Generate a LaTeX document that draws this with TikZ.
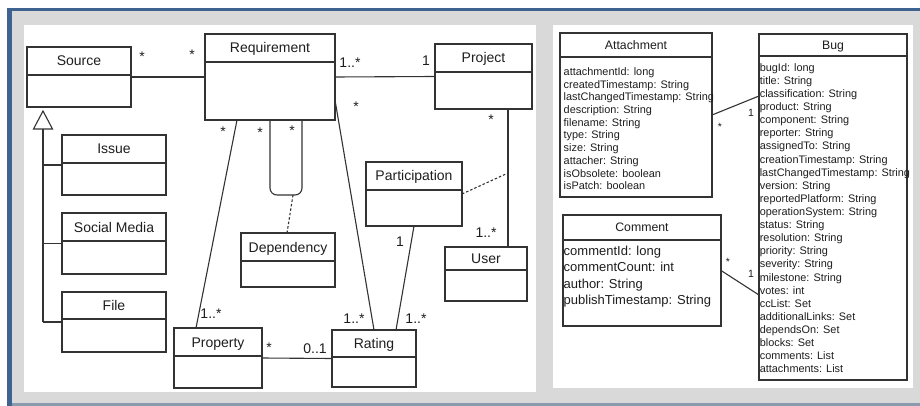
\documentclass[tikz,border=0pt]{standalone}
\usepackage{fontspec}
\setmainfont{Liberation Sans}
\usetikzlibrary{calc}
\definecolor{frameblue}{HTML}{3F6391}
\definecolor{bggray}{HTML}{D9D9D9}
\definecolor{ink}{HTML}{333333}
\definecolor{txt}{HTML}{1E1E1E}
\definecolor{botline}{HTML}{8C9AAE}
\tikzset{
  classbox/.style={draw=ink, line width=1.2pt, fill=white, rectangle, inner sep=0pt, outer sep=0pt},
  divider/.style={draw=ink, line width=1.2pt},
  conn/.style={draw=ink, line width=1.1pt},
  assoc/.style={draw=ink, line width=1.1pt, dash pattern=on 2.5pt off 2pt},
  ltitle/.style={font=\fontsize{14}{16}\selectfont, text height=10pt, text depth=0pt, inner sep=0pt, text=txt},
  rtitle/.style={font=\fontsize{12.3}{14}\selectfont, text height=8.8pt, text depth=0pt, inner sep=0pt, text=txt},
  mult/.style={font=\fontsize{14}{16}\selectfont, inner sep=0pt, anchor=base, text=txt},
  smult/.style={font=\fontsize{10.5}{12}\selectfont, inner sep=0pt, anchor=base, text=txt},
  attr/.style={font=\fontsize{10.9}{13}\selectfont, inner sep=0pt, anchor=base west, text=txt},
  cattr/.style={font=\fontsize{13}{15}\selectfont, inner sep=0pt, anchor=base west, text=txt},
}
\newcommand\umlbox[8]{%
  \node[classbox, minimum width={(#4-#2)*1pt}, minimum height={(#5-#3)*1pt}] (#1) at ({(#2+#4)/2},{(#3+#5)/2}) {};
  \draw[divider] (#2,#6) -- (#4,#6);
  \node[#8] (#1-t) at ({(#2+#4)/2},{(#3+#6)/2}) {#7};
}
\begin{document}
\begin{tikzpicture}[x=1pt,y=-1pt]
\useasboundingbox (0,0) rectangle (920,406);
% frame
\fill[white] (0,0) rectangle (920,406);
\fill[bggray] (12,11) rectangle (920,403);
\fill[frameblue] (7,8) rectangle (920,11);
\fill[frameblue] (7,8) rectangle (12,406);
\fill[botline] (12,403) rectangle (920,406);
\fill[white] (24,25) rectangle (536,392);
\fill[white] (553,25) rectangle (913,388);

% left diagram boxes
\umlbox{Source}{27}{47}{131}{107}{75}{Source}{ltitle}
\umlbox{Requirement}{205}{34}{335}{120}{62}{Requirement}{ltitle}
\umlbox{Project}{435}{44}{532}{109}{72}{Project}{ltitle}
\umlbox{Issue}{62}{135}{166}{195}{163}{Issue}{ltitle}
\umlbox{Social}{62}{213}{166}{274}{241}{Social Media}{ltitle}
\umlbox{File}{62}{292}{166}{352}{319}{File}{ltitle}
\umlbox{Property}{174}{328}{262}{388}{356}{Property}{ltitle}
\umlbox{Rating}{332}{330}{416}{387}{357}{Rating}{ltitle}
\umlbox{User}{445}{247}{527}{301}{270}{User}{ltitle}
\umlbox{Participation}{366}{162}{462}{226}{190}{Participation}{ltitle}
\umlbox{Dependency}{241}{233}{335}{287}{261}{Dependency}{ltitle}

% generalisation
\coordinate (gtip) at (43,111);
\coordinate (gbase) at (43,129);
\coordinate (gend) at (43,322);
\draw[conn] (gbase) -- (gend);
\draw[conn] (Issue.west) -- (Issue.west -| gend);
\draw[conn] (Social.west) -- (Social.west -| gend);
\draw[conn] (File.west) -- (gend);
\draw[conn, fill=white, line join=miter] (gtip) -- ++(-9.5,18) -- ++(19,0) -- cycle;

% associations
\draw[conn] (Source.east) -- (Requirement.west);
\draw[conn] (Requirement.east) -- (Project.west);
\draw[conn] ([yshift=-23pt]Requirement.east) -- (Rating.north);
\draw[conn] ([xshift=-33pt]Requirement.south) -- ([xshift=-22pt]Property.north);
\draw[conn, rounded corners=7pt] (Requirement.south) -- ++(0,75) -- ++(32,0) -- ([xshift=32pt]Requirement.south);
\coordinate (loopmid) at (293,195);
\draw[assoc] (loopmid) -- ([xshift=-1pt]Dependency.north);
\draw[conn] (Participation.south) -- ([xshift=22pt]Rating.north);
\draw[conn] ([xshift=24.5pt]Project.south) -- coordinate[pos=0.464] (pu) ([xshift=22pt]User.north);
\draw[assoc] (Participation.east) -- (pu);
\draw[conn] (Property.east) -- (Rating.west);

% multiplicities (left)
\node[mult] (m1) at (142,62) {*};
\node[mult] (m2) at (192,60) {*};
\node[mult] (m3) at (350,68) {1..*};
\node[mult] (m4) at (426,66) {1};
\node[mult] (m5) at (356,112) {*};
\node[mult] (m6) at (491,125) {*};
\node[mult] (m7) at (486,237) {1..*};
\node[mult] (m8) at (223,137) {*};
\node[mult] (m9) at (260,138) {*};
\node[mult] (m10) at (292,136) {*};
\node[mult] (m11) at (211,318) {1..*};
\node[mult] (m12) at (269,352) {*};
\node[mult] (m13) at (315,353) {0..1};
\node[mult] (m14) at (354,323) {1..*};
\node[mult] (m15) at (416,323) {1..*};
\node[mult] (m16) at (400,246) {1};

% right diagram
\umlbox{Attachment}{560}{33}{712}{197}{57}{Attachment}{rtitle}
\umlbox{Bug}{759}{34}{907}{380}{56}{Bug}{rtitle}
\umlbox{Comment}{563}{215}{721}{326}{240}{Comment}{rtitle}

\foreach \t [count=\i from 0] in {attachmentId: long, createdTimestamp: String, lastChangedTimestamp: String, description: String, filename: String, type: String, size: String, attacher: String, isObsolete: boolean, isPatch: boolean}
  \node[attr] (att-\i) at (563.5,{75.5+12.7*\i}) {\t};

\foreach \t [count=\i from 0] in {bugId: long, title: String, classification: String, product: String, component: String, reporter: String, assignedTo: String, creationTimestamp: String, lastChangedTimestamp: String, version: String, reportedPlatform: String, operationSystem: String, status: String, resolution: String, priority: String, severity: String, milestone: String, votes: int, ccList: Set, additionalLinks: Set, dependsOn: Set, blocks: Set, comments: List, attachments: List}
  \node[attr] (bug-\i) at (759.6,{71.3+13.11*\i}) {\t};

\foreach \t [count=\i from 0] in {commentId: long, commentCount: int, author: String, publishTimestamp: String}
  \node[cattr] (com-\i) at (563.5,{255+16.5*\i}) {\t};

\draw[conn] (Attachment.east) -- ([yshift=111pt]Bug.west);
\draw[conn] (Comment.east) -- ([yshift=-88pt]Bug.west);
\node[smult] (r1) at (720,131) {*};
\node[smult] (r2) at (751,117) {1};
\node[smult] (r3) at (728,265) {*};
\node[smult] (r4) at (751,277) {1};
\end{tikzpicture}
\end{document}
